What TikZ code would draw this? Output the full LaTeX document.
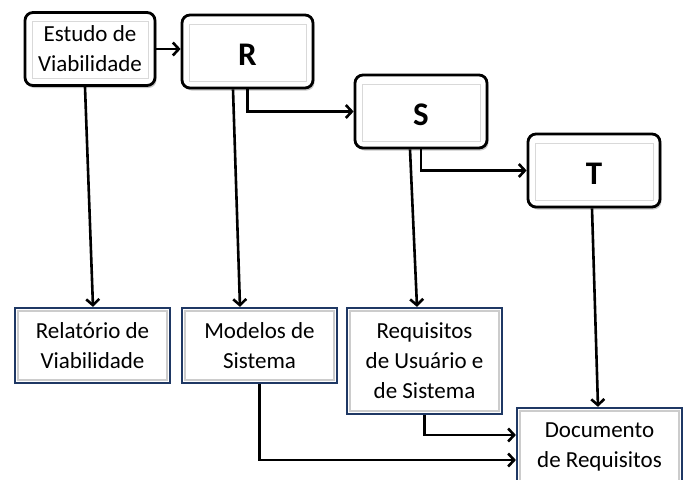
\documentclass[tikz,border=0pt]{standalone}
\usepackage{fontspec}
\setmainfont{Carlito}
\usetikzlibrary{arrows.meta,shadows}
\definecolor{boxblue}{RGB}{31,56,100}
\tikzset{
  fase/.style={draw=black, line width=2.8pt, rounded corners=8pt, fill=white,
    minimum width=130pt, minimum height=73pt, align=center,
    drop shadow={shadow xshift=1.5pt, shadow yshift=-2.5pt, opacity=0.45},
    path picture={\draw[gray!30, line width=1pt, sharp corners]
      ([shift={(7pt,-9pt)}]path picture bounding box.north west) rectangle
      ([shift={(-7pt,7pt)}]path picture bounding box.south east);}},
  letra/.style={font=\fontsize{33}{30}\selectfont\bfseries},
  saida/.style={draw=boxblue, line width=2.2pt, fill=white,
    minimum width=155pt, minimum height=75pt, align=center,
    font=\fontsize{23}{30}\selectfont,
    path picture={\draw[gray!40, line width=2.5pt]
      ([shift={(3pt,-3pt)}]path picture bounding box.north west) rectangle
      ([shift={(-3pt,3pt)}]path picture bounding box.south east);}},
  seta/.style={line width=2.6pt, -{Straight Barb[length=6pt,width=13pt]}}
}
\newcommand{\baixa}[1]{\raisebox{-3pt}[\height][0pt]{#1}}
\begin{document}
\begin{tikzpicture}[x=1pt,y=-1pt]
\useasboundingbox (0,0) rectangle (687,479);
% fases
\node[fase, font=\fontsize{23}{30}\selectfont] (est) at (90,49) {Estudo de\\Viabilidade};
\node[fase, minimum width=131pt, letra] (R) at (247.5,51.5) {\baixa{R}};
\node[fase, minimum width=132pt, letra] (S) at (421,111.5) {\baixa{S}};
\node[fase, minimum width=132pt, letra] (T) at (594,170.5) {\baixa{T}};
% documentos
\node[saida] (rel) at (92.5,345.5) {Relatório de\\Viabilidade};
\node[saida] (mod) at (259.5,345.5) {Modelos de\\Sistema};
\node[saida, minimum height=106pt] (req) at (424.5,361) {Requisitos\\de Usuário e\\de Sistema};
\node[saida, minimum width=165pt, minimum height=78pt] (doc) at (599.5,447) {Documento\\de Requisitos};
% setas
\draw[seta] (est.east) -- (est.east -| R.west);
\draw[seta] (R.south) |- (S.west);
\draw[seta] (S.south) |- (T.west);
\draw[seta] ([xshift=-5pt]est.south) -- ([xshift=0.5pt]rel.north);
\draw[seta] ([xshift=-14.5pt]R.south) -- ([xshift=-19.5pt]mod.north);
\draw[seta] ([xshift=-11pt]S.south) -- ([xshift=-7.5pt]req.north);
\draw[seta] ([xshift=-2pt]T.south) -- ([xshift=-1.5pt]doc.north);
\draw[seta] (req.south) |- ([yshift=12pt]doc.west);
\draw[seta] (mod.south) |- ([yshift=-13pt]doc.west);
\end{tikzpicture}
\end{document}
